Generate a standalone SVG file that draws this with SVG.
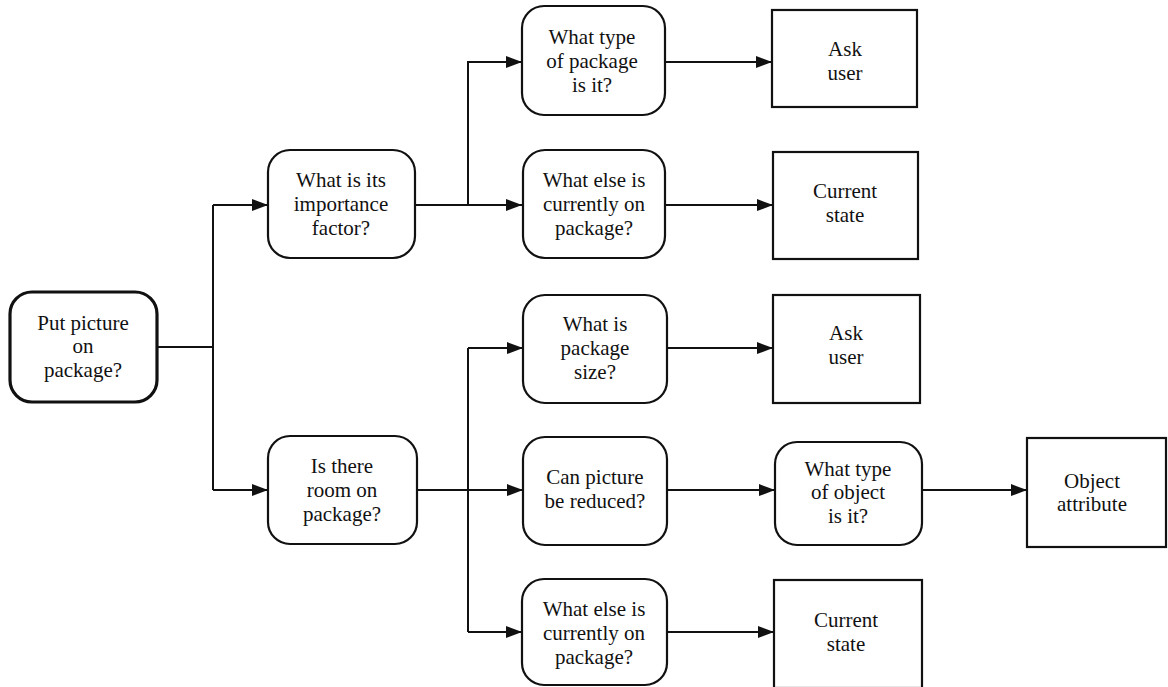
<svg xmlns="http://www.w3.org/2000/svg" width="1168" height="687" viewBox="0 0 1168 687">
<style>
.b{fill:#fff;stroke:#111;stroke-width:2.2}
.root{fill:#fff;stroke:#111;stroke-width:3.2}
.c{fill:none;stroke:#111;stroke-width:2}
.t{font-family:"Liberation Serif","DejaVu Serif",serif;font-size:21px;fill:#111;text-anchor:middle;dominant-baseline:central}
</style>
<defs>
<marker id="a" viewBox="0 0 16 12" refX="16" refY="6" markerWidth="16" markerHeight="12" markerUnits="userSpaceOnUse" orient="auto">
<path d="M0,0 L16,6 L0,12 Z" fill="#111"/>
</marker>
</defs>
<g id="connectors">
<path class="c" d="M157,347 H213"/>
<path class="c" d="M213,205 V490"/>
<path class="c" d="M213,205 H268" marker-end="url(#a)"/>
<path class="c" d="M213,490 H268" marker-end="url(#a)"/>
<path class="c" d="M415,205 H522" marker-end="url(#a)"/>
<path class="c" d="M468,205 V62 H522" marker-end="url(#a)"/>
<path class="c" d="M665,62 H772" marker-end="url(#a)"/>
<path class="c" d="M665,205 H773" marker-end="url(#a)"/>
<path class="c" d="M417,490 H523" marker-end="url(#a)"/>
<path class="c" d="M468,348 V632"/>
<path class="c" d="M468,348 H523" marker-end="url(#a)"/>
<path class="c" d="M468,632 H522" marker-end="url(#a)"/>
<path class="c" d="M667,348 H773" marker-end="url(#a)"/>
<path class="c" d="M667,490 H775" marker-end="url(#a)"/>
<path class="c" d="M922,490 H1027" marker-end="url(#a)"/>
<path class="c" d="M667,632 H774" marker-end="url(#a)"/>
</g>
<g id="n-root" class="t" font-family="Liberation Serif, DejaVu Serif, serif">
<rect class="root" x="10" y="292" width="147" height="110" rx="22"/>
<text x="83" y="323">Put picture</text>
<text x="83" y="346">on</text>
<text x="83" y="370">package?</text>
</g>
<g id="n-importance" class="t" font-family="Liberation Serif, DejaVu Serif, serif">
<rect class="b" x="268" y="150" width="147" height="108" rx="22"/>
<text x="341" y="180">What is its</text>
<text x="341" y="204">importance</text>
<text x="341" y="228">factor?</text>
</g>
<g id="n-room" class="t" font-family="Liberation Serif, DejaVu Serif, serif">
<rect class="b" x="268" y="436" width="149" height="108" rx="22"/>
<text x="342" y="466">Is there</text>
<text x="342" y="490">room on</text>
<text x="342" y="514">package?</text>
</g>
<g id="n-typepkg" class="t" font-family="Liberation Serif, DejaVu Serif, serif">
<rect class="b" x="522" y="6" width="143" height="109" rx="22"/>
<text x="592" y="37">What type</text>
<text x="592" y="61">of package</text>
<text x="592" y="85">is it?</text>
</g>
<g id="n-else1" class="t" font-family="Liberation Serif, DejaVu Serif, serif">
<rect class="b" x="523" y="150" width="142" height="108" rx="22"/>
<text x="594" y="180">What else is</text>
<text x="594" y="204">currently on</text>
<text x="594" y="228">package?</text>
</g>
<g id="n-size" class="t" font-family="Liberation Serif, DejaVu Serif, serif">
<rect class="b" x="523" y="295" width="144" height="108" rx="22"/>
<text x="595" y="324">What is</text>
<text x="595" y="348">package</text>
<text x="595" y="372">size?</text>
</g>
<g id="n-reduce" class="t" font-family="Liberation Serif, DejaVu Serif, serif">
<rect class="b" x="523" y="437" width="144" height="108" rx="22"/>
<text x="595" y="477">Can picture</text>
<text x="595" y="501">be reduced?</text>
</g>
<g id="n-else2" class="t" font-family="Liberation Serif, DejaVu Serif, serif">
<rect class="b" x="522" y="579" width="145" height="106" rx="22"/>
<text x="594" y="609">What else is</text>
<text x="594" y="633">currently on</text>
<text x="594" y="657">package?</text>
</g>
<g id="n-ask1" class="t" font-family="Liberation Serif, DejaVu Serif, serif">
<rect class="b" x="772" y="10" width="145" height="97"/>
<text x="845" y="49">Ask</text>
<text x="845" y="73">user</text>
</g>
<g id="n-state1" class="t" font-family="Liberation Serif, DejaVu Serif, serif">
<rect class="b" x="773" y="152" width="145" height="107"/>
<text x="845" y="191">Current</text>
<text x="845" y="215">state</text>
</g>
<g id="n-ask2" class="t" font-family="Liberation Serif, DejaVu Serif, serif">
<rect class="b" x="773" y="295" width="147" height="108"/>
<text x="846" y="333">Ask</text>
<text x="846" y="357">user</text>
</g>
<g id="n-typeobj" class="t" font-family="Liberation Serif, DejaVu Serif, serif">
<rect class="b" x="775" y="442" width="147" height="103" rx="22"/>
<text x="848" y="469">What type</text>
<text x="848" y="492">of object</text>
<text x="848" y="516">is it?</text>
</g>
<g id="n-attr" class="t" font-family="Liberation Serif, DejaVu Serif, serif">
<rect class="b" x="1027" y="438" width="139" height="109"/>
<text x="1092" y="481">Object</text>
<text x="1092" y="504">attribute</text>
</g>
<g id="n-state2" class="t" font-family="Liberation Serif, DejaVu Serif, serif">
<rect class="b" x="774" y="580" width="148" height="108"/>
<text x="846" y="620">Current</text>
<text x="846" y="644">state</text>
</g>
</svg>
